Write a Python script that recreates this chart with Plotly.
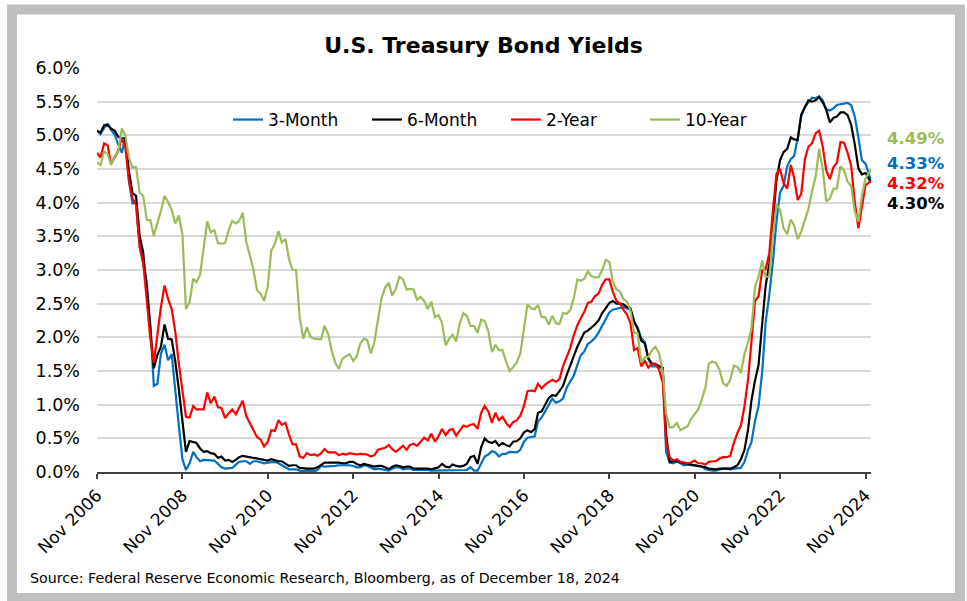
import pandas as pd
import plotly.graph_objects as go

# ---------------- data (monthly, Nov 2006 .. Dec 18 2024, percent) ----------------
start_month = "2006-11-01"
as_of_date = "2024-12-18"

three_month = [
    5.07, 5.02,
    5.11, 5.16, 5.08, 5.01, 4.87, 4.74, 4.96, 4.32, 3.99, 4.00, 3.35, 3.07,
    2.82, 2.17, 1.28, 1.31, 1.76, 1.89, 1.66, 1.75, 1.15, 0.69, 0.19, 0.03,
    0.13, 0.30, 0.22, 0.16, 0.18, 0.18, 0.18, 0.17, 0.12, 0.07, 0.05, 0.05,
    0.06, 0.11, 0.15, 0.16, 0.16, 0.12, 0.16, 0.16, 0.15, 0.13, 0.14, 0.14,
    0.15, 0.13, 0.10, 0.06, 0.04, 0.04, 0.04, 0.02, 0.01, 0.02, 0.01, 0.01,
    0.03, 0.09, 0.08, 0.08, 0.09, 0.09, 0.10, 0.10, 0.11, 0.10, 0.09, 0.07,
    0.07, 0.10, 0.09, 0.06, 0.04, 0.05, 0.04, 0.04, 0.02, 0.05, 0.07, 0.07,
    0.04, 0.05, 0.05, 0.03, 0.03, 0.04, 0.03, 0.03, 0.02, 0.02, 0.02, 0.03,
    0.03, 0.02, 0.03, 0.02, 0.02, 0.02, 0.03, 0.07, 0.02, 0.02, 0.13, 0.23,
    0.26, 0.31, 0.29, 0.23, 0.27, 0.27, 0.30, 0.30, 0.29, 0.33, 0.45, 0.51,
    0.52, 0.53, 0.75, 0.81, 0.90, 1.00, 1.09, 1.03, 1.05, 1.09, 1.25, 1.34,
    1.43, 1.59, 1.73, 1.79, 1.90, 1.94, 1.99, 2.07, 2.17, 2.29, 2.37, 2.41,
    2.42, 2.44, 2.45, 2.43, 2.40, 2.22, 2.15, 1.99, 1.93, 1.68, 1.57, 1.57,
    1.55, 1.54, 0.30, 0.14, 0.13, 0.16, 0.13, 0.10, 0.11, 0.10, 0.09, 0.09,
    0.08, 0.04, 0.03, 0.02, 0.02, 0.04, 0.05, 0.05, 0.04, 0.05, 0.05, 0.06,
    0.15, 0.33, 0.44, 0.76, 0.98, 1.49, 2.23, 2.63, 3.13, 3.72, 4.15, 4.25,
    4.54, 4.65, 4.69, 4.96, 5.28, 5.42, 5.49, 5.56, 5.55, 5.58, 5.52, 5.39,
    5.37, 5.40, 5.45, 5.46, 5.46, 5.48, 5.45, 5.28, 4.97, 4.63, 4.58, 4.33,
]

six_month = [
    5.07, 5.04,
    5.15, 5.16, 5.10, 5.07, 4.98, 4.95, 4.96, 4.47, 4.14, 4.10, 3.50, 3.26,
    2.71, 2.05, 1.54, 1.74, 1.86, 2.19, 1.98, 1.97, 1.64, 1.23, 0.79, 0.30,
    0.46, 0.45, 0.43, 0.35, 0.30, 0.31, 0.28, 0.27, 0.21, 0.23, 0.17, 0.18,
    0.15, 0.18, 0.22, 0.24, 0.23, 0.22, 0.20, 0.19, 0.19, 0.17, 0.17, 0.19,
    0.17, 0.16, 0.16, 0.12, 0.09, 0.10, 0.10, 0.06, 0.05, 0.05, 0.05, 0.05,
    0.07, 0.11, 0.14, 0.14, 0.14, 0.15, 0.14, 0.13, 0.13, 0.15, 0.15, 0.12,
    0.10, 0.12, 0.11, 0.09, 0.08, 0.09, 0.09, 0.07, 0.04, 0.08, 0.10, 0.09,
    0.07, 0.08, 0.08, 0.05, 0.05, 0.06, 0.06, 0.05, 0.04, 0.05, 0.07, 0.12,
    0.08, 0.07, 0.11, 0.09, 0.08, 0.09, 0.12, 0.22, 0.24, 0.12, 0.37, 0.50,
    0.45, 0.43, 0.46, 0.39, 0.43, 0.40, 0.38, 0.45, 0.46, 0.50, 0.59, 0.62,
    0.59, 0.64, 0.88, 0.90, 0.99, 1.10, 1.14, 1.13, 1.20, 1.28, 1.44, 1.59,
    1.72, 1.86, 1.96, 2.07, 2.10, 2.14, 2.19, 2.25, 2.36, 2.43, 2.51, 2.54,
    2.50, 2.50, 2.49, 2.45, 2.43, 2.24, 2.13, 1.95, 1.91, 1.69, 1.61, 1.60,
    1.57, 1.55, 0.56, 0.15, 0.16, 0.17, 0.14, 0.13, 0.12, 0.11, 0.10, 0.09,
    0.09, 0.07, 0.05, 0.04, 0.04, 0.05, 0.05, 0.06, 0.05, 0.07, 0.10, 0.19,
    0.33, 0.64, 1.06, 1.36, 1.59, 2.20, 2.77, 3.09, 3.69, 4.33, 4.63, 4.75,
    4.80, 4.97, 4.94, 4.93, 5.31, 5.42, 5.52, 5.50, 5.52, 5.57, 5.49, 5.38,
    5.19, 5.26, 5.28, 5.34, 5.34, 5.30, 5.16, 4.87, 4.51, 4.42, 4.44, 4.30,
]

two_year = [
    4.74, 4.67,
    4.88, 4.85, 4.57, 4.67, 4.77, 4.96, 4.82, 4.34, 4.06, 3.97, 3.34, 3.12,
    2.48, 1.97, 1.62, 2.05, 2.45, 2.77, 2.57, 2.42, 2.08, 1.61, 1.21, 0.82,
    0.81, 0.98, 0.93, 0.93, 0.93, 1.18, 1.02, 1.12, 0.96, 0.95, 0.80, 0.87,
    0.93, 0.86, 0.96, 1.06, 0.83, 0.72, 0.62, 0.52, 0.48, 0.38, 0.45, 0.62,
    0.61, 0.77, 0.70, 0.73, 0.56, 0.41, 0.41, 0.23, 0.21, 0.28, 0.25, 0.26,
    0.24, 0.28, 0.34, 0.29, 0.29, 0.29, 0.25, 0.27, 0.26, 0.28, 0.27, 0.26,
    0.27, 0.27, 0.26, 0.23, 0.25, 0.33, 0.34, 0.36, 0.40, 0.34, 0.30, 0.34,
    0.39, 0.33, 0.40, 0.42, 0.39, 0.45, 0.51, 0.47, 0.57, 0.45, 0.53, 0.64,
    0.55, 0.62, 0.64, 0.54, 0.61, 0.69, 0.67, 0.70, 0.71, 0.64, 0.88, 0.98,
    0.90, 0.73, 0.88, 0.77, 0.82, 0.73, 0.67, 0.74, 0.77, 0.84, 0.98, 1.20,
    1.21, 1.20, 1.31, 1.24, 1.30, 1.34, 1.37, 1.34, 1.38, 1.57, 1.70, 1.84,
    2.03, 2.18, 2.28, 2.38, 2.51, 2.53, 2.61, 2.65, 2.78, 2.86, 2.86, 2.68,
    2.54, 2.50, 2.41, 2.34, 2.21, 1.81, 1.84, 1.57, 1.65, 1.55, 1.61, 1.61,
    1.52, 1.33, 0.45, 0.22, 0.17, 0.19, 0.15, 0.14, 0.13, 0.14, 0.17, 0.13,
    0.13, 0.11, 0.15, 0.16, 0.16, 0.20, 0.22, 0.22, 0.24, 0.43, 0.58, 0.69,
    0.98, 1.39, 1.91, 2.54, 2.61, 2.99, 3.01, 3.25, 3.89, 4.43, 4.50, 4.29,
    4.21, 4.56, 4.37, 4.04, 4.13, 4.64, 4.83, 4.88, 5.03, 5.07, 4.83, 4.48,
    4.35, 4.53, 4.59, 4.90, 4.89, 4.74, 4.55, 4.01, 3.62, 3.97, 4.26, 4.32,
]

ten_year = [
    4.60, 4.56,
    4.76, 4.72, 4.56, 4.69, 4.75, 5.10, 5.00, 4.67, 4.52, 4.53, 4.15, 4.10,
    3.74, 3.74, 3.51, 3.68, 3.88, 4.10, 4.01, 3.89, 3.69, 3.81, 3.53, 2.42,
    2.52, 2.87, 2.82, 2.93, 3.29, 3.72, 3.56, 3.59, 3.40, 3.39, 3.40, 3.59,
    3.73, 3.69, 3.73, 3.85, 3.42, 3.20, 3.01, 2.70, 2.65, 2.54, 2.76, 3.29,
    3.39, 3.58, 3.41, 3.46, 3.17, 3.00, 3.00, 2.30, 1.98, 2.15, 2.01, 1.98,
    1.97, 1.97, 2.17, 2.05, 1.80, 1.62, 1.53, 1.68, 1.72, 1.75, 1.65, 1.72,
    1.91, 1.98, 1.96, 1.76, 1.93, 2.30, 2.58, 2.74, 2.81, 2.62, 2.72, 2.90,
    2.86, 2.71, 2.72, 2.71, 2.56, 2.60, 2.54, 2.42, 2.53, 2.30, 2.33, 2.21,
    1.88, 1.98, 2.04, 1.94, 2.20, 2.36, 2.32, 2.17, 2.17, 2.07, 2.26, 2.24,
    2.09, 1.78, 1.89, 1.81, 1.81, 1.64, 1.50, 1.56, 1.63, 1.76, 2.14, 2.49,
    2.43, 2.42, 2.48, 2.30, 2.30, 2.19, 2.32, 2.21, 2.20, 2.36, 2.35, 2.40,
    2.58, 2.86, 2.84, 2.87, 2.98, 2.91, 2.89, 2.89, 3.00, 3.15, 3.12, 2.83,
    2.71, 2.68, 2.57, 2.53, 2.40, 2.07, 2.06, 1.63, 1.70, 1.71, 1.81, 1.86,
    1.76, 1.50, 0.87, 0.66, 0.67, 0.73, 0.62, 0.65, 0.68, 0.79, 0.87, 0.93,
    1.08, 1.26, 1.61, 1.64, 1.62, 1.52, 1.32, 1.28, 1.37, 1.58, 1.56, 1.47,
    1.76, 1.93, 2.13, 2.75, 2.90, 3.14, 2.90, 2.90, 3.52, 3.98, 3.89, 3.62,
    3.53, 3.75, 3.66, 3.46, 3.57, 3.75, 3.90, 4.17, 4.38, 4.80, 4.50, 4.02,
    4.06, 4.21, 4.21, 4.54, 4.48, 4.31, 4.25, 3.87, 3.72, 4.10, 4.36, 4.49,
]

series_names = ["3-Month", "6-Month", "2-Year", "10-Year"]
series_values = [three_month, six_month, two_year, ten_year]
series_colors = ["#0070C0", "#000000", "#FF0000", "#9BBB59"]

tick_years = list(range(2006, 2025, 2))
tick_labels = [f"Nov {y}" for y in tick_years]
tick_dates = [f"{y}-11-01" for y in tick_years]

title_text = "U.S. Treasury Bond Yields"
source_text = "Source: Federal Reserve Economic Research, Bloomberg, as of December 18, 2024"

# ---------------- figure ----------------
dates = list(pd.date_range(start_month, periods=len(three_month) - 1, freq="MS")) + [pd.Timestamp(as_of_date)]

FONT = "DejaVu Sans"
fig = go.Figure()
for name, vals, col in zip(series_names, series_values, series_colors):
    fig.add_trace(go.Scatter(x=dates, y=vals, name=name, mode="lines",
                             line=dict(color=col, width=2.2)))

# end-of-series value labels (stacked beside the plot to avoid overlap)
label_y = {"10-Year": 4.96, "3-Month": 4.575, "2-Year": 4.285, "6-Month": 3.995}
for name, vals, col in zip(series_names, series_values, series_colors):
    fig.add_annotation(x=1.018, xref="paper", xanchor="left",
                       y=label_y[name], yref="y", yanchor="middle",
                       text=f"{vals[-1]:.2f}%", showarrow=False,
                       font=dict(family=FONT, size=16.5, color=col, weight="bold"))

fig.add_annotation(x=(28 - 97) / 774, xref="paper", xanchor="left",
                   y=-0.262, yref="paper", yanchor="middle",
                   text=source_text, showarrow=False,
                   font=dict(family=FONT, size=14.2, color="#000000"))

# outer gray frame
fig.add_shape(type="rect", xref="paper", yref="paper",
              x0=(12 - 97) / 774, x1=(960 - 97) / 774,
              y0=(472 - 598) / 404, y1=(472 - 9.5) / 404,
              line=dict(color="#BFBFBF", width=10), fillcolor="rgba(0,0,0,0)", layer="below")

fig.update_layout(
    width=967, height=601,
    margin=dict(l=97, r=96, t=68, b=129),
    paper_bgcolor="white", plot_bgcolor="white",
    title=dict(text=title_text, x=0.5, xref="container", xanchor="center",
               y=1 - 45 / 601, yref="container", yanchor="middle",
               font=dict(family=FONT, size=22, color="#000000", weight="bold")),
    font=dict(family=FONT, size=17, color="#000000"),
    showlegend=True,
    legend=dict(orientation="h", x=(228 - 97) / 774, xanchor="left",
                y=(472 - 120) / 404, yanchor="middle",
                bgcolor="rgba(0,0,0,0)", entrywidth=94, entrywidthmode="pixels",
                font=dict(family=FONT, size=17, color="#000000"),
                itemclick=False),
    xaxis=dict(type="date", range=[start_month, as_of_date],
               tickvals=tick_dates, ticktext=tick_labels, tickangle=-45,
               ticks="outside", ticklen=5, tickcolor="#404040", tickwidth=1.5,
               showline=True, linecolor="#404040", linewidth=1.5,
               showgrid=False, zeroline=False,
               tickfont=dict(family=FONT, size=17, color="#000000")),
    yaxis=dict(range=[0, 6], dtick=0.5, tick0=0, tickformat=".1f", ticksuffix="%",
               showgrid=True, gridcolor="#D9D9D9", gridwidth=1.5,
               zeroline=False, showline=False, ticks="", ticklabelstandoff=16,
               tickfont=dict(family=FONT, size=17.5, color="#000000")),
)

fig.write_html("out.html")
